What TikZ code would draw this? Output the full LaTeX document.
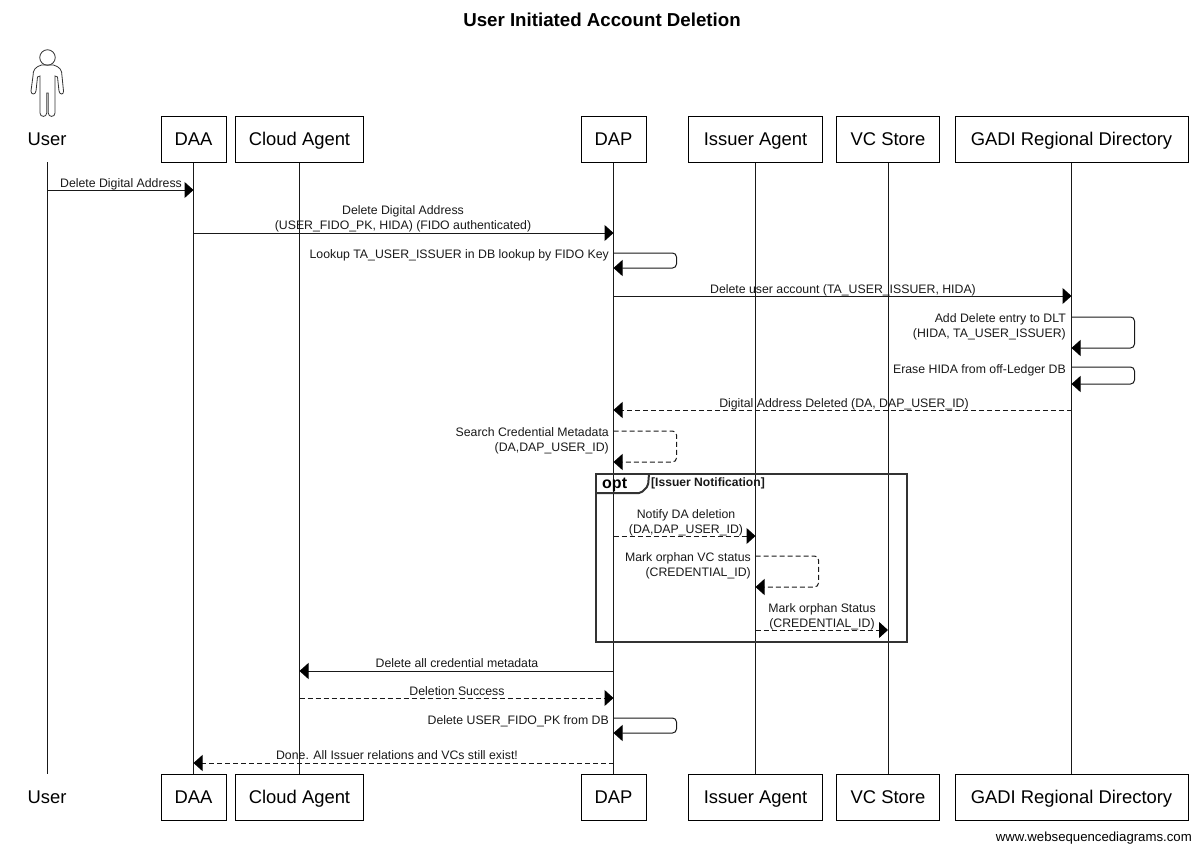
\documentclass[tikz,border=0pt]{standalone}
\usepackage{fontspec}
\setmainfont{Liberation Sans}
\usetikzlibrary{arrows.meta,positioning,shapes}
\tikzset{%
	actorbox/.style  = {draw, rectangle, line width=1pt, minimum height=46pt, inner sep=0pt, text height=14pt, text depth=2pt, text centered, font=\fontsize{18.4}{20}\selectfont},
	actorname/.style = {inner sep=0pt, minimum height=46pt, text height=14pt, text depth=2pt, font=\fontsize{18.4}{20}\selectfont},
	lifeline/.style  = {line width=1pt, black!90},
	arrow/.style     = {line width=1pt, black!90, -{Triangle[length=9pt,width=16pt,black]}},
	reply/.style     = {arrow, dash pattern=on 5pt off 3pt},
	selfcall/.style  = {rounded corners=4pt},
	msg/.style       = {inner sep=0pt, align=center, text=black!90, font=\fontsize{12.3}{15}\selectfont},
	selfmsg/.style   = {msg, align=right, anchor=north east},
}
\begin{document}
\begin{tikzpicture}[x=1pt,y=-1pt]
	\useasboundingbox (0,0) rectangle (1200,852);
	\node[font=\bfseries\fontsize{18.7}{20}\selectfont] (title) at (602,20) {User Initiated Account Deletion};
	
	% Actors, top row
	\node[actorname] (userTop) at (47,139) {User};
	\node[actorbox, minimum width=65pt] (daaTop) at (193.5,139) {DAA};
	\node[actorbox, minimum width=128pt] (cloudTop) at (299.5,139) {Cloud Agent};
	\node[actorbox, minimum width=65pt] (dapTop) at (613.5,139) {DAP};
	\node[actorbox, minimum width=134pt] (issuerTop) at (755.5,139) {Issuer Agent};
	\node[actorbox, minimum width=103pt] (vcTop) at (888,139) {VC Store};
	\node[actorbox, minimum width=233pt] (gadiTop) at (1071.5,139) {GADI Regional Directory};
	
	% Actors, bottom row
	\node[actorname] (userBot) at (47,797) {User};
	\node[actorbox, minimum width=65pt] (daaBot) at (193.5,797) {DAA};
	\node[actorbox, minimum width=128pt] (cloudBot) at (299.5,797) {Cloud Agent};
	\node[actorbox, minimum width=65pt] (dapBot) at (613.5,797) {DAP};
	\node[actorbox, minimum width=134pt] (issuerBot) at (755.5,797) {Issuer Agent};
	\node[actorbox, minimum width=103pt] (vcBot) at (888,797) {VC Store};
	\node[actorbox, minimum width=233pt] (gadiBot) at (1071.5,797) {GADI Regional Directory};
	
	% Stick figure
	\node[draw, circle, line width=0.8pt, minimum size=15.5pt, inner sep=0pt, black!80] (userHead) at (47.5,57.5) {};
	\draw[line width=0.8pt, black!80] (41.5,65) .. controls (35,67) and (33,70) .. (33,76) -- (31,91) .. controls (31,95) and (35.5,95) .. (36,91) -- (37.5,77) -- (40,76) -- (40,113) .. controls (40,117.5) and (46.7,117.5) .. (46.7,113) -- (46.7,93) -- (48.3,93) -- (48.3,113) .. controls (48.3,117.5) and (55,117.5) .. (55,113) -- (55,76) -- (57.5,77) -- (59,91) .. controls (59.5,95) and (64,95) .. (63.5,91) -- (62,76) .. controls (62,70) and (60,67) .. (53.5,65) -- cycle;
	
	% Lifelines
	\foreach \a in {user,daa,cloud,dap,issuer,vc,gadi}
		\draw[lifeline] (\a Top) -- (\a Bot);
	
	% Opt frame
	\node[draw, line width=2pt, black!80, minimum width=311pt, minimum height=168pt, inner sep=0pt] (optFrame) at (751.5,558) {};
	\draw[line width=2pt, black!80, rounded corners=2pt] (optFrame.north west) ++(0,20) coordinate (optTag) -- ++(46,0) -- ++(7,-7) -- (649,474);
	\node[inner sep=0pt, anchor=west, font=\bfseries\fontsize{16}{18}\selectfont] (optName) at (602,485) {opt};
	\node[inner sep=0pt, anchor=west, font=\bfseries\fontsize{12.1}{14}\selectfont, text=black!90] (optGuard) at (651,483) {[Issuer Notification]};
	
	% One coordinate per message on every lifeline
	\foreach \y in {190,233,253,268,296,317,348,367,384,410,431,462,536,556,587,630,671,698,718,733,763}
		\foreach \a in {user,daa,cloud,dap,issuer,vc,gadi}
			\coordinate (\a\y) at (\a Top |- 0,\y);
	
	% Messages
	\draw[arrow] (user190) -- (daa190);
	\node[msg] (m1) at (121,184) {Delete Digital Address};
	\draw[arrow] (daa233) -- (dap233);
	\node[msg] (m2) at (403,218.5) {Delete Digital Address\\(USER\_FIDO\_PK, HIDA) (FIDO authenticated)};
	\draw[arrow, selfcall] (dap253) -- ++(63,0) |- (dap268);
	\node[selfmsg] (m3) at (609,249) {Lookup TA\_USER\_ISSUER in DB lookup by FIDO Key};
	\draw[arrow] (dap296) -- (gadi296);
	\node[msg] (m4) at (843,290) {Delete user account (TA\_USER\_ISSUER, HIDA)};
	\draw[arrow, selfcall] (gadi317) -- ++(63,0) |- (gadi348);
	\node[selfmsg] (m5) at (1066,313) {Add Delete entry to DLT\\(HIDA, TA\_USER\_ISSUER)};
	\draw[arrow, selfcall] (gadi367) -- ++(63,0) |- (gadi384);
	\node[selfmsg] (m6) at (1066,364) {Erase HIDA from off-Ledger DB};
	\draw[reply] (gadi410) -- (dap410);
	\node[msg] (m7) at (844,404) {Digital Address Deleted (DA, DAP\_USER\_ID)};
	\draw[reply, selfcall] (dap431) -- ++(63,0) |- (dap462);
	\node[selfmsg] (m8) at (609,427) {Search Credential Metadata\\(DA,DAP\_USER\_ID)};
	\draw[reply] (dap536) -- (issuer536);
	\node[msg] (m9) at (686,522.5) {Notify DA deletion\\(DA,DAP\_USER\_ID)};
	\draw[reply, selfcall] (issuer556) -- ++(63,0) |- (issuer587);
	\node[selfmsg] (m10) at (751,552) {Mark orphan VC status\\(CREDENTIAL\_ID)};
	\draw[reply] (issuer630) -- (vc630);
	\node[msg] (m11) at (822,616.5) {Mark orphan Status\\(CREDENTIAL\_ID)};
	\draw[arrow] (dap671) -- (cloud671);
	\node[msg] (m12) at (457,663) {Delete all credential metadata};
	\draw[reply] (cloud698) -- (dap698);
	\node[msg] (m13) at (457,691) {Deletion Success};
	\draw[arrow, selfcall] (dap718) -- ++(63,0) |- (dap733);
	\node[selfmsg] (m14) at (609,715) {Delete USER\_FIDO\_PK from DB};
	\draw[reply] (dap763) -- (daa763);
	\node[msg] (m15) at (397,755) {Done. All Issuer relations and VCs still exist!};
	
	\node[inner sep=0pt, anchor=east, font=\fontsize{13.2}{15}\selectfont] (brand) at (1192,838) {www.websequencediagrams.com};
\end{tikzpicture}
\end{document}
